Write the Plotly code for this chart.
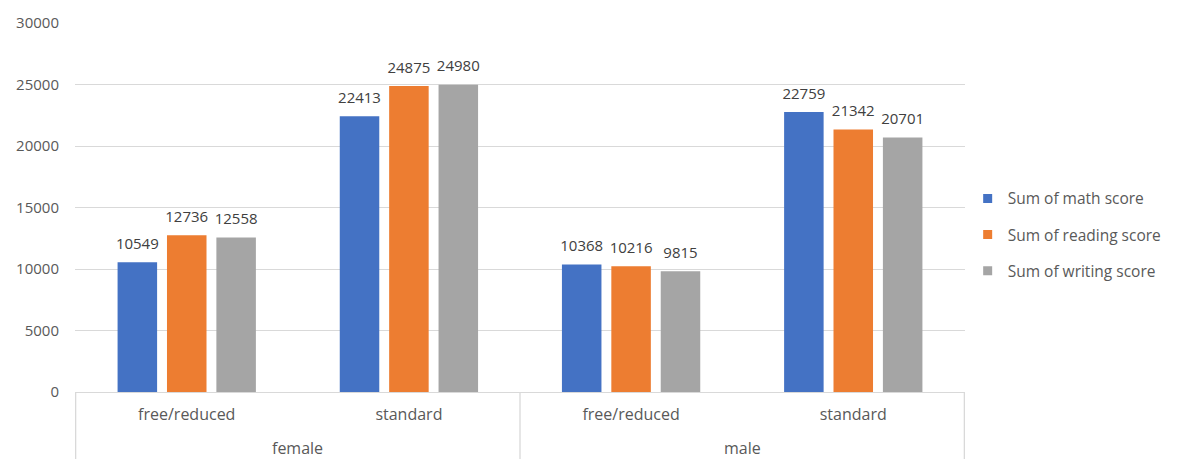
import plotly.graph_objects as go

# Sums of test scores by gender and lunch type
genders = ["female", "female", "male", "male"]
lunch_types = ["free/reduced", "standard", "free/reduced", "standard"]
math_scores = [10549, 22413, 10368, 22759]
reading_scores = [12736, 24875, 10216, 21342]
writing_scores = [12558, 24980, 9815, 20701]

series_names = ["Sum of math score", "Sum of reading score", "Sum of writing score"]
series_values = [math_scores, reading_scores, writing_scores]
series_colors = ["#4472C4", "#ED7D31", "#A5A5A5"]

y_ticks = [0, 5000, 10000, 15000, 20000, 25000, 30000]

FONT = "Open Sans, Noto Sans, sans-serif"
GRID = "#d9d9d9"

# unique category keys, labelled with the lunch type only
cat_keys = [f"{g} / {l}" for g, l in zip(genders, lunch_types)]

fig = go.Figure()

for i, (name, vals, color) in enumerate(zip(series_names, series_values, series_colors)):
    fig.add_trace(go.Bar(
        x=cat_keys, y=vals, name=name, marker_color=color,
        marker_line_width=0, showlegend=False, hoverinfo="skip",
        offsetgroup=str(i),
    ))

# value labels placed above each bar, grouped the same way as the bars
for i, (name, vals) in enumerate(zip(series_names, series_values)):
    fig.add_trace(go.Scatter(
        x=cat_keys, y=vals, mode="markers+text",
        text=[str(v) for v in vals], textposition="top center",
        textfont=dict(family=FONT, size=15, color="#404040"),
        marker=dict(size=14, opacity=0), showlegend=False,
        hoverinfo="skip", cliponaxis=False,
        offsetgroup=str(i), alignmentgroup="labels",
    ))

# legend entries with small square swatches
for i, (name, color) in enumerate(zip(series_names, series_colors)):
    fig.add_trace(go.Scatter(
        x=[None], y=[None], mode="markers", name=name, legendgroup=name,
        marker=dict(symbol="square", size=9, color=color),
        offsetgroup=str(i), alignmentgroup="labels",
    ))

# outer group labels (gender) centred under their categories
group_names = list(dict.fromkeys(genders))
for g in group_names:
    idx = [i for i, gg in enumerate(genders) if gg == g]
    fig.add_annotation(
        x=sum(idx) / len(idx), y=0, xref="x", yref="paper",
        yanchor="middle", yshift=-56, text=g, showarrow=False,
        font=dict(family=FONT, size=16, color="#595959"),
    )

# divider lines of the two-level category axis
bounds = [-0.5]
for i in range(1, len(genders)):
    if genders[i] != genders[i - 1]:
        bounds.append(i - 0.5)
bounds.append(len(genders) - 0.5)
for b in bounds:
    fig.add_shape(type="line", xref="x", yref="paper", x0=b, x1=b,
                  y0=0, y1=-0.2, line=dict(color=GRID, width=1.3))

fig.update_layout(
    width=1179, height=459,
    margin=dict(l=75, r=214, t=17, b=67),
    paper_bgcolor="white", plot_bgcolor="white",
    barmode="group", bargap=0.333, bargroupgap=0.2,
    scattermode="group", scattergap=0.333,
    font=dict(family=FONT, size=15, color="#595959"),
    legend=dict(
        x=1.003, xanchor="left", y=0.426, yanchor="middle",
        font=dict(family=FONT, size=15.5, color="#595959"),
        tracegroupgap=13, itemwidth=30, bgcolor="rgba(0,0,0,0)",
    ),
    xaxis=dict(
        tickmode="array", tickvals=cat_keys, ticktext=lunch_types,
        showgrid=False, showline=False, zeroline=False,
        ticks="outside", ticklen=8, tickcolor="rgba(0,0,0,0)",
        tickfont=dict(family=FONT, size=16, color="#595959"),
    ),
    yaxis=dict(
        range=[0, 30000], tickvals=y_ticks, ticktext=[str(v) for v in y_ticks],
        showgrid=True, gridcolor=GRID, gridwidth=1.3,
        zeroline=True, zerolinecolor=GRID, zerolinewidth=1.3,
        showline=False, ticks="outside", ticklen=12,
        tickcolor="rgba(0,0,0,0)",
        tickfont=dict(family=FONT, size=15, color="#595959"),
    ),
)

fig.write_html("out.html")
